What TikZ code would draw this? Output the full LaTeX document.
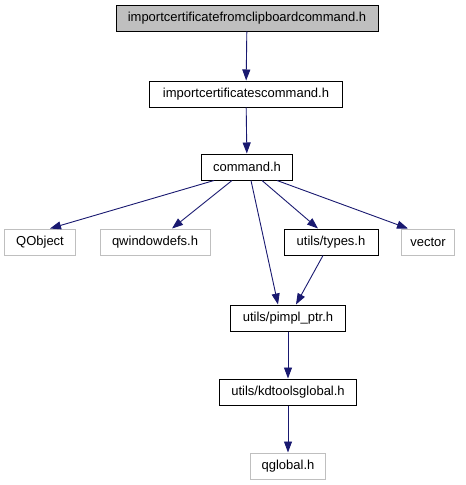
\documentclass[tikz,border=0pt]{standalone}
\usepackage{fontspec}
\setmainfont{Liberation Sans}
\usetikzlibrary{arrows.meta}
\definecolor{edgeblue}{HTML}{191970}
\definecolor{lgray}{HTML}{BFBFBF}
\begin{document}
\begin{tikzpicture}[x=1pt,y=-1pt,
  box/.style={draw=black,fill=white,line width=1pt,minimum height=26pt,inner xsep=2pt,font=\fontsize{13}{15}\selectfont},
  ext/.style={box,draw=lgray},
  root/.style={box,fill=lgray},
  edge/.style={draw=edgeblue,line width=0.9pt,-{Triangle[length=11pt,width=8pt]}}]
\useasboundingbox (0,0) rectangle (466,485);
\node[root,minimum width=262pt] (top) at (247,18) {importcertificatefromclipboardcommand.h};
\node[box,minimum width=193pt] (ics) at (246,94) {importcertificatescommand.h};
\node[box,minimum width=91pt] (cmd) at (247,167) {command.h};
\node[ext,minimum width=71pt] (qobj) at (40,242) {QObject};
\node[ext,minimum width=110pt] (qwin) at (155,242) {qwindowdefs.h};
\node[box,minimum width=94pt] (types) at (331,242) {utils/types.h};
\node[ext,minimum width=53pt] (vec) at (428,242) {vector};
\node[box,minimum width=115pt] (pimpl) at (288,318) {utils/pimpl\_ptr.h};
\node[box,minimum width=137pt] (kdt) at (288,392) {utils/kdtoolsglobal.h};
\node[ext,minimum width=75pt] (qg) at (288,466) {qglobal.h};
\draw[edge] (top) -- (ics);
\draw[edge] (ics) -- (cmd);
\draw[edge] ([xshift=-33]cmd.south) -- ([xshift=10]qobj.north);
\draw[edge] ([xshift=-15]cmd.south) -- ([xshift=17]qwin.north);
\draw[edge] ([xshift=4]cmd.south) -- ([xshift=-10]pimpl.north);
\draw[edge] ([xshift=15]cmd.south) -- ([xshift=-13]types.north);
\draw[edge] ([xshift=30]cmd.south) -- ([xshift=-20]vec.north);
\draw[edge] ([xshift=-8]types.south) -- ([xshift=8]pimpl.north);
\draw[edge] (pimpl) -- (kdt);
\draw[edge] (kdt) -- (qg);
\end{tikzpicture}
\end{document}
